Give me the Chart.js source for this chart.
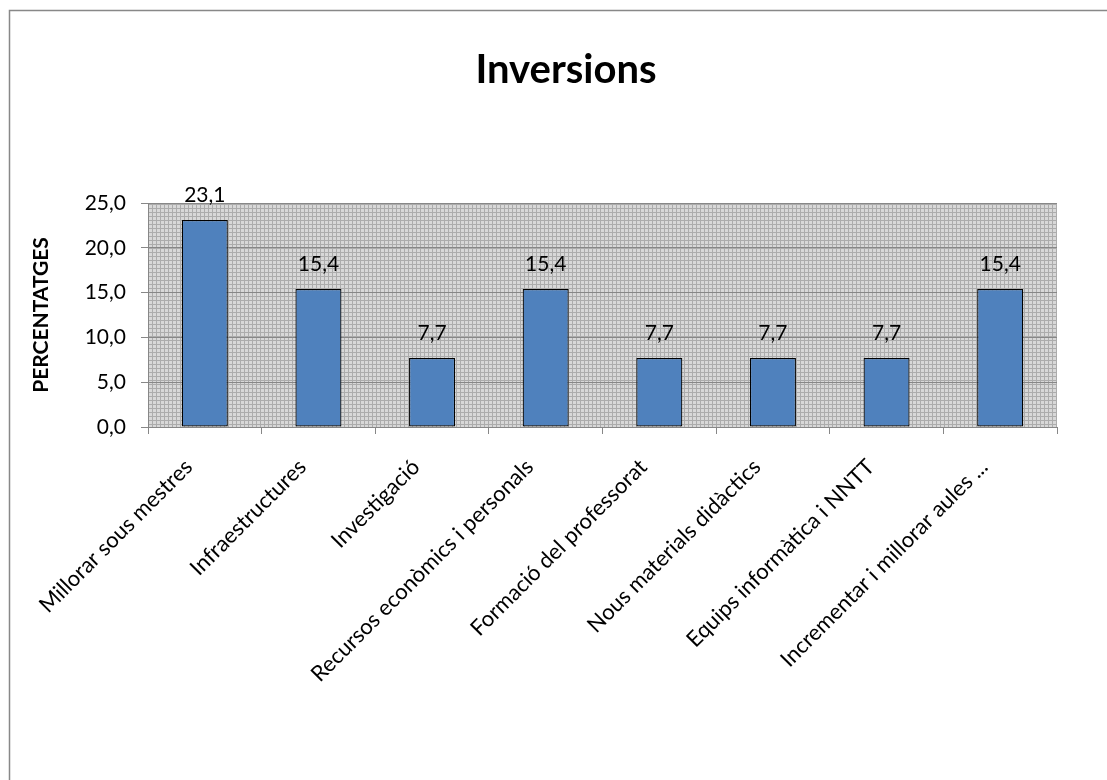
<!DOCTYPE html>
<html>
<head>
<meta charset="utf-8">
<script src="https://cdn.jsdelivr.net/npm/chart.js@4/dist/chart.umd.min.js"></script>
<style>
  html, body { margin: 0; padding: 0; background: #ffffff; }
  #wrap { width: 1107px; height: 780px; }
</style>
</head>
<body>
<div id="wrap"><canvas id="chart" width="1107" height="780"></canvas></div>
<script>
// Categories and their shares (%)
const categories = [
  'Millorar sous mestres',
  'Infraestructures',
  'Investigació',
  'Recursos econòmics i personals',
  'Formació del professorat',
  'Nous materials didàctics',
  'Equips informàtica i NNTT',
  'Incrementar i millorar aules ...'
];
const percentages = [23.1, 15.4, 7.7, 15.4, 7.7, 7.7, 7.7, 15.4];

// Value axis range
const yMin = 0;
const yMax = 25;
const yStep = 5;

const chartTitle = 'Inversions';
const yTitle = 'PERCENTATGES';

const FONT = 'Lato';
const fmt = v => Number(v).toFixed(1).replace('.', ',');

// Small-grid fill used behind the bars
function makeGridPattern(ctx) {
  const c = document.createElement('canvas');
  c.width = 4; c.height = 4;
  const g = c.getContext('2d');
  g.fillStyle = '#d8d8d8';
  g.fillRect(0, 0, 4, 4);
  g.fillStyle = '#acacac';
  g.fillRect(0, 0, 4, 1);
  g.fillRect(0, 0, 1, 4);
  return ctx.createPattern(c, 'repeat');
}

// Frame, plot-area fill and the centred heading
const framePlugin = {
  id: 'frame',
  beforeDraw(chart) {
    const { ctx, chartArea: a } = chart;
    ctx.save();
    ctx.fillStyle = '#ffffff';
    ctx.fillRect(0, 0, chart.width, chart.height);
    // outer chart border (open to the right and bottom edges)
    ctx.strokeStyle = '#888888';
    ctx.lineWidth = 1.5;
    ctx.beginPath();
    ctx.moveTo(9.5, chart.height + 5);
    ctx.lineTo(9.5, 10.5);
    ctx.lineTo(chart.width + 5, 10.5);
    ctx.stroke();
    // plot area fill
    ctx.fillStyle = makeGridPattern(ctx);
    ctx.fillRect(a.left, a.top, a.right - a.left, a.bottom - a.top);
    // heading, centred on the chart frame
    ctx.fillStyle = '#000000';
    ctx.font = 'bold 40px ' + FONT;
    ctx.textAlign = 'center';
    ctx.textBaseline = 'alphabetic';
    ctx.fillText(chartTitle, 566, 83);
    ctx.restore();
  }
};

const valueLabelPlugin = {
  id: 'valueLabels',
  afterDatasetsDraw(chart) {
    const { ctx } = chart;
    const meta = chart.getDatasetMeta(0);
    const data = chart.data.datasets[0].data;
    ctx.save();
    ctx.font = '21px ' + FONT;
    ctx.fillStyle = '#000000';
    ctx.textAlign = 'center';
    ctx.textBaseline = 'alphabetic';
    meta.data.forEach((bar, i) => {
      ctx.fillText(fmt(data[i]), bar.x, bar.y - 18);
    });
    ctx.restore();
  }
};

new Chart(document.getElementById('chart'), {
  type: 'bar',
  data: {
    labels: categories,
    datasets: [{
      data: percentages,
      backgroundColor: '#4f81bd',
      borderColor: '#000000',
      borderWidth: 1.2,
      borderSkipped: false,
      barPercentage: 0.405,
      categoryPercentage: 1.0
    }]
  },
  options: {
    responsive: false,
    animation: false,
    devicePixelRatio: 1,
    layout: { padding: { left: 0, right: 50, top: 203, bottom: 0 } },
    plugins: {
      legend: { display: false },
      tooltip: { enabled: false },
      title: { display: false }
    },
    scales: {
      x: {
        offset: true,
        grid: {
          display: true,
          offset: true,
          drawOnChartArea: false,
          drawTicks: true,
          tickLength: 7,
          color: '#878787'
        },
        border: { display: true, color: '#878787', width: 1 },
        ticks: {
          autoSkip: false,
          maxRotation: 45,
          minRotation: 45,
          labelOffset: -16,
          padding: 20,
          color: '#000000',
          font: { family: FONT, size: 22 }
        },
        afterFit(scale) { scale.height = 353; }
      },
      y: {
        min: yMin,
        max: yMax,
        grid: {
          color: '#878787',
          lineWidth: 1,
          tickLength: 7,
          tickColor: '#878787'
        },
        border: { display: true, color: '#878787', width: 1 },
        ticks: {
          stepSize: yStep,
          padding: 15,
          color: '#000000',
          font: { family: FONT, size: 21 },
          callback: v => fmt(v)
        },
        title: {
          display: true,
          text: yTitle,
          color: '#000000',
          font: { family: FONT, size: 21, weight: 'bold' },
          padding: { top: 29, bottom: 0 }
        },
        afterFit(scale) { scale.width = 148; }
      }
    }
  },
  plugins: [framePlugin, valueLabelPlugin]
});
</script>
</body>
</html>
